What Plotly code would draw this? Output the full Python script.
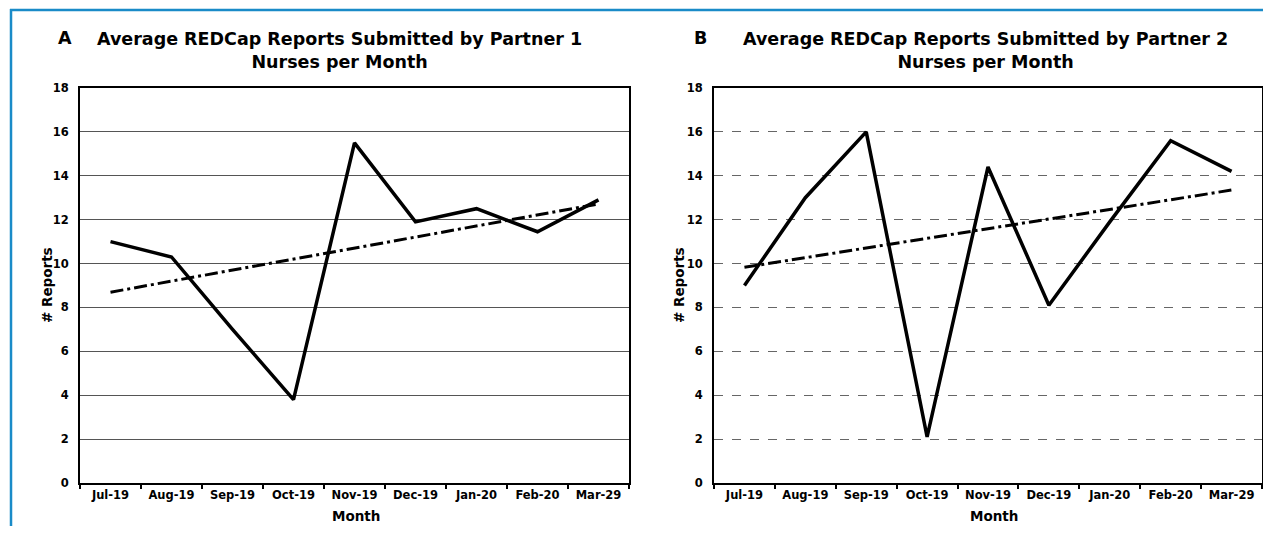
import numpy as np
import plotly.graph_objects as go

months = ["Jul-19", "Aug-19", "Sep-19", "Oct-19", "Nov-19", "Dec-19", "Jan-20", "Feb-20", "Mar-29"]
partner1 = [11.0, 10.3, 7.0, 3.8, 15.5, 11.9, 12.5, 11.45, 12.9]
partner2 = [9.0, 13.0, 16.0, 2.1, 14.4, 8.1, 11.9, 15.6, 14.2]
y_ticks = list(range(0, 19, 2))

titles = ["Average REDCap Reports Submitted by Partner 1<br>Nurses per Month",
          "Average REDCap Reports Submitted by Partner 2<br>Nurses per Month"]
panel_letters = ["A", "B"]

# figure sized to fit inside the 1271x534 window with the default 8px body margin
W, H = 1255, 518
OFF = 8
FONT = "DejaVu Sans, Liberation Sans, Arial, sans-serif"


def px_x(x):
    return (x - OFF) / W


def px_y(y):
    return 1 - (y - OFF) / H


def trend(vals):
    idx = np.arange(len(vals))
    k, b = np.polyfit(idx, vals, 1)
    return list(k * idx + b)


fig = go.Figure()

domains = [(px_x(80), px_x(629)), (px_x(714), px_x(1262))]
ydom = (px_y(483), px_y(88))
series = [partner1, partner2]

for i, vals in enumerate(series):
    xa = "x" if i == 0 else "x2"
    ya = "y" if i == 0 else "y2"
    fig.add_trace(go.Scatter(x=months, y=vals, mode="lines",
                             line=dict(color="black", width=3.5),
                             xaxis=xa, yaxis=ya, showlegend=False))
    fig.add_trace(go.Scatter(x=months, y=trend(vals), mode="lines",
                             line=dict(color="black", width=3, dash="13px,4px,3px,4px"),
                             xaxis=xa, yaxis=ya, showlegend=False))

axis_common_x = dict(type="category", categoryorder="array", categoryarray=months,
                     tickson="boundaries", ticks="outside", ticklen=4, tickwidth=1.5,
                     tickcolor="black", showline=True, linecolor="black", linewidth=2,
                     mirror=True, showgrid=False, range=[-0.5, 8.5], automargin=False,
                     tickfont=dict(family=FONT, size=11.5, color="black", weight="bold"))
axis_common_y = dict(range=[0, 18], tickvals=y_ticks, showline=True, linecolor="black",
                     linewidth=2, mirror=True, zeroline=False, ticks="",
                     ticklabelstandoff=7, automargin=False,
                     tickfont=dict(family=FONT, size=11.5, color="black", weight="bold"))

fig.update_layout(
    xaxis=dict(domain=list(domains[0]), anchor="y", **axis_common_x),
    yaxis=dict(domain=list(ydom), anchor="x", showgrid=True, gridcolor="#555555",
               gridwidth=1, **axis_common_y),
    xaxis2=dict(domain=list(domains[1]), anchor="y2", **axis_common_x),
    yaxis2=dict(domain=list(ydom), anchor="x2", showgrid=True, gridcolor="#666666",
                gridwidth=1, griddash="dash", **axis_common_y),
)

annotations = []
title_centers = [340, 985]
letter_x = [65, 700]
month_x = [356, 994]
ylab_x = [47, 679]
for i in range(2):
    annotations.append(dict(text=titles[i], x=px_x(title_centers[i]), y=px_y(50.5),
                            xref="paper", yref="paper", showarrow=False,
                            xanchor="center", yanchor="middle",
                            font=dict(family=FONT, size=17.5, color="black", weight="bold")))
    annotations.append(dict(text=panel_letters[i], x=px_x(letter_x[i]), y=px_y(38),
                            xref="paper", yref="paper", showarrow=False,
                            xanchor="center", yanchor="middle",
                            font=dict(family=FONT, size=17.5, color="black", weight="bold")))
    annotations.append(dict(text="Month", x=px_x(month_x[i]), y=px_y(516),
                            xref="paper", yref="paper", showarrow=False,
                            xanchor="center", yanchor="middle",
                            font=dict(family=FONT, size=13.5, color="black", weight="bold")))
    annotations.append(dict(text="# Reports", x=px_x(ylab_x[i]), y=px_y(285),
                            xref="paper", yref="paper", showarrow=False, textangle=-90,
                            xanchor="center", yanchor="middle",
                            font=dict(family=FONT, size=13.5, color="black", weight="bold")))

shapes = [
    dict(type="line", xref="paper", yref="paper", x0=px_x(11), x1=px_x(11), y0=px_y(9), y1=-0.05,
         line=dict(color="#1a8bc8", width=2.5)),
    dict(type="line", xref="paper", yref="paper", x0=px_x(10), x1=1.05, y0=px_y(10), y1=px_y(10),
         line=dict(color="#1a8bc8", width=2.5)),
]

fig.update_layout(width=W, height=H, margin=dict(l=0, r=0, t=0, b=0, autoexpand=False),
                  paper_bgcolor="white", plot_bgcolor="white",
                  annotations=annotations, shapes=shapes, showlegend=False)

fig.write_html("out.html")
